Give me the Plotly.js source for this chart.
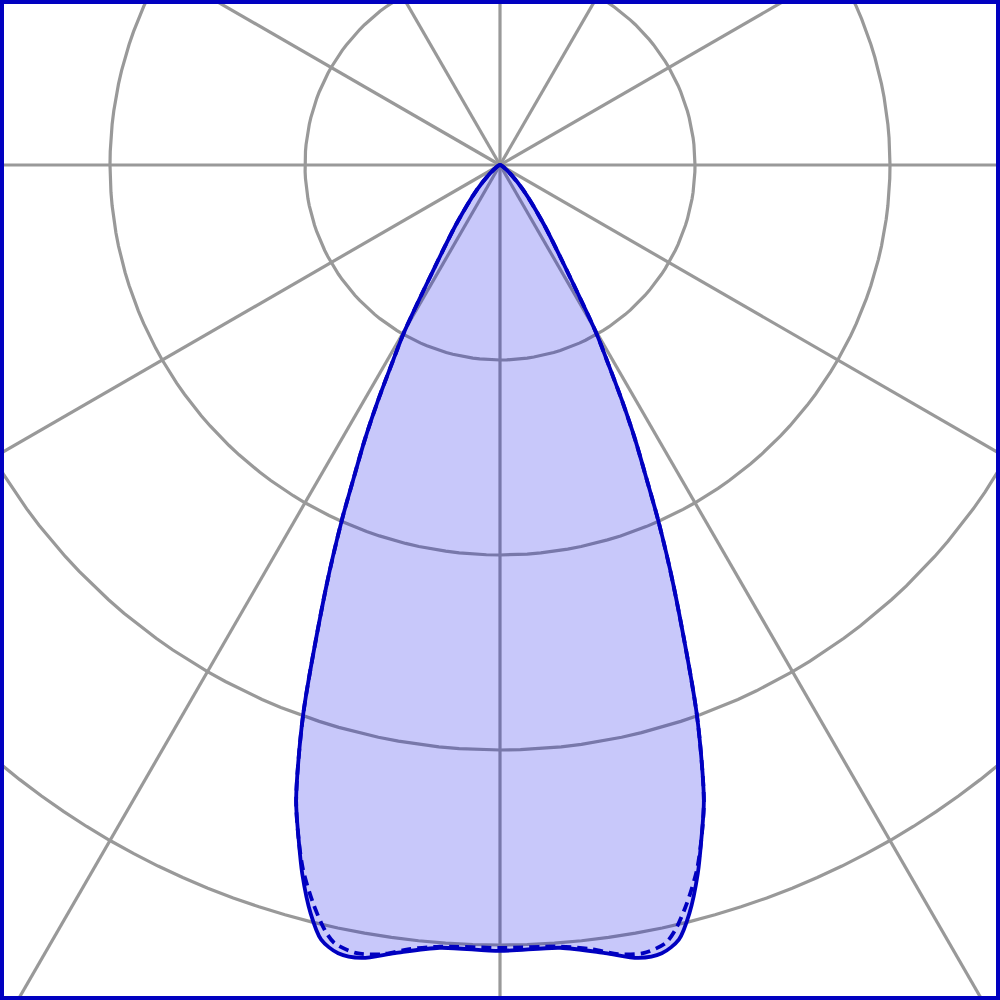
<!DOCTYPE html>
<html>
<head>
<meta charset="utf-8">
<script src="https://cdn.plot.ly/plotly-3.0.1.min.js"></script>
<style>
  html, body { margin: 0; padding: 0; background: #fff; }
  #LdcPlot { width: 1000px; height: 1000px; }
</style>
</head>
<body>
<div id="LdcPlot"></div>
<script>
// Light distribution curve, cd/klm (one half, mirrored)
// C0-C180 plane (solid)
let gammaC0 = [0, 4.4, 7.6, 9.9, 11.6, 13, 14.2, 15.6, 16.6, 17.8, 19.7, 22.4, 24, 25, 26.2, 27.4, 28.7, 29.8, 32.2, 36.6, 43, 50, 60, 75, 90];
let valuesC0 = [403, 402.6, 407.7, 412.8, 412.7, 407.7, 395.9, 377.2, 361.3, 342, 299.5, 233.8, 199.5, 178.2, 157.1, 135.7, 114, 99.3, 65.6, 37.2, 17.4, 6.7, 2, 0.5, 0];

// C90-C270 plane (dashed)
let gammaC90 = [0, 4.4, 6.7, 8.5, 10.3, 12, 12.9, 14.2, 15.6, 16.6, 17.8, 19.7, 22.4, 24, 25, 26.2, 27.4, 28.7, 29.8, 32.2, 36.6, 43, 50, 60, 75, 90];
let valuesC90 = [401.5, 402, 405, 409.2, 410.8, 408, 402.5, 390.6, 375.4, 361.3, 342, 299.5, 233.8, 199.5, 178.2, 157.1, 135.7, 114, 99.3, 65.6, 37.2, 17.4, 6.7, 2, 0.5, 0];

// Polar grid
let gridRadii = [100, 200, 300, 400, 500];
let gridAngles = [0, 30, 60, 90, 120, 150, 180, 210, 240, 270, 300, 330];

const deg = Math.PI / 180;

// gamma measured from straight down, left half mirrored
const toXY = (gammas, vals) => {
    let x = [];
    let y = [];
    for (let i = gammas.length - 1; i >= 0; i--) {
        x.push(-vals[i] * Math.sin(gammas[i] * deg));
        y.push(-vals[i] * Math.cos(gammas[i] * deg));
    }
    for (let i = 1; i < gammas.length; i++) {
        x.push(vals[i] * Math.sin(gammas[i] * deg));
        y.push(-vals[i] * Math.cos(gammas[i] * deg));
    }
    return {x: x, y: y};
};

let traces = [];
let gridColor = '#999999';

gridRadii.forEach((r) => {
    let cx = [];
    let cy = [];
    for (let a = 0; a <= 360; a += 2) {
        cx.push(r * Math.cos(a * deg));
        cy.push(r * Math.sin(a * deg));
    }
    traces.push({x: cx, y: cy, mode: 'lines', type: 'scatter', hoverinfo: 'skip', showlegend: false,
        line: {color: gridColor, width: 3.2}});
});

gridAngles.forEach((a) => {
    traces.push({x: [0, 1000 * Math.cos(a * deg)], y: [0, 1000 * Math.sin(a * deg)],
        mode: 'lines', type: 'scatter', hoverinfo: 'skip', showlegend: false,
        line: {color: gridColor, width: 3.2}});
});

let c0 = toXY(gammaC0, valuesC0);
let c90 = toXY(gammaC90, valuesC90);

traces.push({
    x: c0.x, y: c0.y, mode: 'lines', type: 'scatter', name: 'C0-C180',
    fill: 'toself', fillcolor: 'rgba(0,0,230,0.215)',
    line: {color: '#0000c0', width: 3.8, shape: 'spline', smoothing: 0.8}
});
traces.push({
    x: c90.x, y: c90.y, mode: 'lines', type: 'scatter', name: 'C90-C270',
    line: {color: '#0000c0', width: 3.8, dash: '10px,6px', shape: 'spline', smoothing: 0.8}
});

// 195 px per 100 cd/klm, centre at (500,165) of the page
let pxPerUnit = 1.95;
let layout = {
    width: 1000,
    height: 1000,
    margin: {l: 4, r: 4, t: 4, b: 4, pad: 0},
    paper_bgcolor: '#0000c0',
    plot_bgcolor: '#ffffff',
    showlegend: false,
    xaxis: {range: [(4 - 500) / pxPerUnit, (996 - 500) / pxPerUnit], visible: false, fixedrange: true},
    yaxis: {range: [(165 - 996) / pxPerUnit, (165 - 4) / pxPerUnit], visible: false, fixedrange: true}
};

Plotly.newPlot('LdcPlot', traces, layout, {displayModeBar: false, staticPlot: true});
</script>
</body>
</html>
